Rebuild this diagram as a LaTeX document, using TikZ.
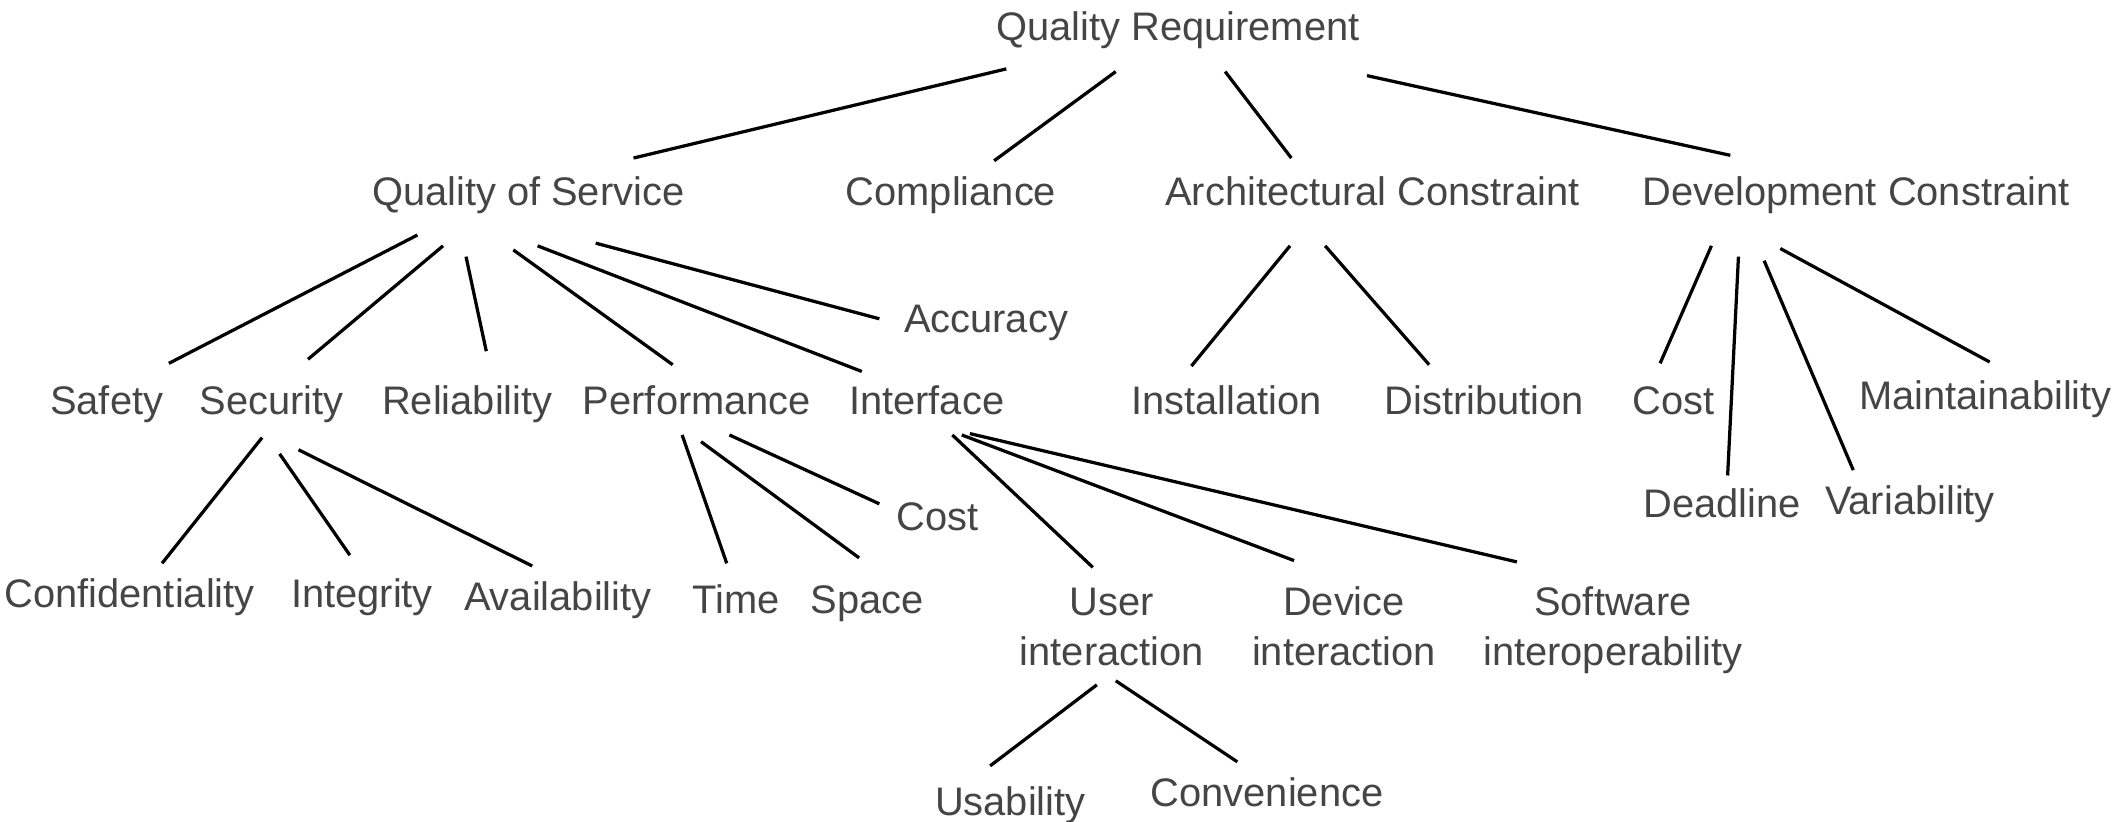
\documentclass[tikz,border=0pt]{standalone}
\usepackage{fontspec}
\setmainfont{Liberation Sans}
\definecolor{txt}{HTML}{454545}
\begin{document}
\begin{tikzpicture}[x=1pt,y=-1pt,
  lbl/.style={anchor=base, inner sep=0pt, text=txt, font=\fontsize{29.5}{37}\selectfont, align=center},
  edge/.style={line width=2.4pt, black}]
\useasboundingbox (0,0) rectangle (1568,608);
% nodes
\node[lbl] (qr) at (872,30) {Quality Requirement};
\node[lbl] (qos) at (391,152) {Quality of Service};
\node[lbl] (comp) at (704,152) {Compliance};
\node[lbl] (arch) at (1016,152) {Architectural Constraint};
\node[lbl] (dev) at (1374,152) {Development Constraint};
\node[lbl] (acc) at (730,246) {Accuracy};
\node[lbl] (safety) at (79,307) {Safety};
\node[lbl] (security) at (201,307) {Security};
\node[lbl] (rel) at (346,307) {Reliability};
\node[lbl] (perf) at (516,307) {Performance};
\node[lbl] (intf) at (686,307) {Interface};
\node[lbl] (inst) at (908,307) {Installation};
\node[lbl] (dist) at (1099,307) {Distribution};
\node[lbl] (dcost) at (1239,307) {Cost};
\node[lbl] (maint) at (1470,303) {Maintainability};
\node[lbl] (dead) at (1275,383) {Deadline};
\node[lbl] (var) at (1414,381) {Variability};
\node[lbl] (pcost) at (694,393) {Cost};
\node[lbl] (conf) at (96,450) {Confidentiality};
\node[lbl] (integ) at (268,450) {Integrity};
\node[lbl] (avail) at (413,452) {Availability};
\node[lbl] (time) at (545,454) {Time};
\node[lbl] (space) at (642,454) {Space};
\node[lbl] (user) at (823,493) {User\\interaction};
\node[lbl] (device) at (995,493) {Device\\interaction};
\node[lbl] (soft) at (1194,493) {Software\\interoperability};
\node[lbl] (usab) at (748,604) {Usability};
\node[lbl] (conv) at (938,597) {Convenience};
% edges
\draw[edge] ([shift={(-127,21)}]qr.base) -- ([shift={(78,-35)}]qos.base);
\draw[edge] ([shift={(-46,23)}]qr.base) -- ([shift={(32,-33)}]comp.base);
\draw[edge] ([shift={(35,23)}]qr.base) -- ([shift={(-60,-35)}]arch.base);
\draw[edge] ([shift={(140,26)}]qr.base) -- ([shift={(-93,-37)}]dev.base);
\draw[edge] ([shift={(-82,22)}]qos.base) -- ([shift={(46,-38)}]safety.base);
\draw[edge] ([shift={(-63,30)}]qos.base) -- ([shift={(27,-41)}]security.base);
\draw[edge] ([shift={(-46,38)}]qos.base) -- ([shift={(14,-47)}]rel.base);
\draw[edge] ([shift={(-11,33)}]qos.base) -- ([shift={(-18,-37)}]perf.base);
\draw[edge] ([shift={(7,30)}]qos.base) -- ([shift={(-48,-32)}]intf.base);
\draw[edge] ([shift={(50,28)}]qos.base) -- ([shift={(-79,-10)}]acc.base);
\draw[edge] ([shift={(-61,30)}]arch.base) -- ([shift={(-26,-36)}]inst.base);
\draw[edge] ([shift={(-35,30)}]arch.base) -- ([shift={(-41,-37)}]dist.base);
\draw[edge] ([shift={(-107,30)}]dev.base) -- ([shift={(-10,-38)}]dcost.base);
\draw[edge] ([shift={(-87,38)}]dev.base) -- ([shift={(4,-31)}]dead.base);
\draw[edge] ([shift={(-68,41)}]dev.base) -- ([shift={(-42,-33)}]var.base);
\draw[edge] ([shift={(-56,32)}]dev.base) -- ([shift={(3,-35)}]maint.base);
\draw[edge] ([shift={(-7,17)}]security.base) -- ([shift={(24,-33)}]conf.base);
\draw[edge] ([shift={(6,29)}]security.base) -- ([shift={(-9,-39)}]integ.base);
\draw[edge] ([shift={(20,26)}]security.base) -- ([shift={(-19,-33)}]avail.base);
\draw[edge] ([shift={(-11,15)}]perf.base) -- ([shift={(-7,-37)}]time.base);
\draw[edge] ([shift={(3,20)}]perf.base) -- ([shift={(-6,-41)}]space.base);
\draw[edge] ([shift={(24,15)}]perf.base) -- ([shift={(-43,-20)}]pcost.base);
\draw[edge] ([shift={(19,15)}]intf.base) -- ([shift={(-14,-73)}]user.base);
\draw[edge] ([shift={(26,15)}]intf.base) -- ([shift={(-37,-78)}]device.base);
\draw[edge] ([shift={(32,14)}]intf.base) -- ([shift={(-71,-77)}]soft.base);
\draw[edge] ([shift={(-11,14)}]user.base) -- ([shift={(-15,-37)}]usab.base);
\draw[edge] ([shift={(3,11)}]user.base) -- ([shift={(-22,-33)}]conv.base);
\end{tikzpicture}
\end{document}
